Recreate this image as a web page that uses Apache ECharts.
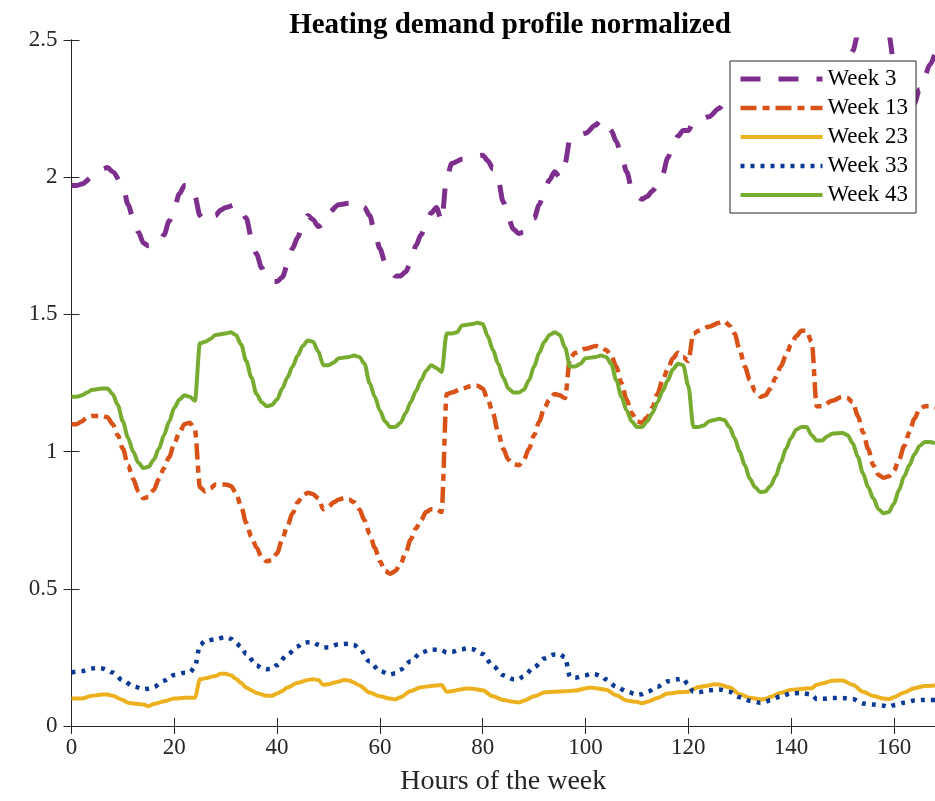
<!DOCTYPE html>
<html>
<head>
    <meta charset="utf-8">
    <title>Heating demand profile normalized</title>
    <script src="https://cdn.jsdelivr.net/npm/echarts@6/dist/echarts.min.js"></script>
</head>
<body>
<style>
    html, body, #main {
        width: 100%;
        height: 100%;
        padding: 0;
        margin: 0;
        background: #fff;
    }
</style>
<div id="main"></div>
<script type="text/javascript">
    // [hour, normalized demand]
    var week3 = [
        [0, 1.97], [1, 1.97], [2, 1.975], [4, 2.0], [6, 2.03], [7, 2.035], [8, 2.02], [10, 1.97],
        [11, 1.9], [12, 1.85], [13, 1.8], [14, 1.76], [15, 1.75], [16, 1.75], [17, 1.76], [18, 1.79],
        [19, 1.84], [20, 1.89], [21, 1.94], [22, 1.97], [23, 1.97], [24, 1.93], [25, 1.86], [26, 1.84],
        [28, 1.86], [29, 1.88], [30, 1.89], [32, 1.9], [33, 1.88], [34, 1.85], [35, 1.78], [36, 1.72],
        [37, 1.67], [38, 1.635], [39, 1.62], [40, 1.62], [41, 1.635], [42, 1.68], [43, 1.74], [44, 1.78],
        [45, 1.83], [46, 1.86], [47, 1.845], [48, 1.82], [49, 1.83], [50, 1.87], [52, 1.9], [54, 1.905],
        [56, 1.91], [57, 1.89], [58, 1.86], [59, 1.8], [60, 1.74], [61, 1.69], [62, 1.66], [63, 1.64],
        [64, 1.64], [65, 1.655], [66, 1.69], [67, 1.75], [68, 1.79], [69, 1.83], [70, 1.87], [71, 1.89],
        [72, 1.84], [73, 2.0], [74, 2.05], [76, 2.065], [78, 2.075], [80, 2.08], [81, 2.06], [82, 2.03],
        [83, 1.99], [84, 1.91], [85, 1.85], [86, 1.81], [87, 1.795], [88, 1.8], [89, 1.82], [90, 1.85],
        [91, 1.9], [92, 1.95], [93, 1.99], [94, 2.02], [95, 2.0], [96, 2.05], [97, 2.14], [98, 2.15],
        [100, 2.16], [102, 2.19], [103, 2.21], [104, 2.2], [105, 2.17], [106, 2.13], [107, 2.08], [108, 2.02],
        [109, 1.96], [110, 1.93], [111, 1.92], [112, 1.93], [113, 1.95], [114, 1.97], [115, 2.01], [116, 2.07],
        [117, 2.12], [118, 2.15], [119, 2.17], [120, 2.17], [121, 2.2], [122, 2.21], [124, 2.22], [126, 2.25],
        [127, 2.27], [128, 2.28], [130, 2.3], [132, 2.29], [134, 2.25], [136, 2.22], [138, 2.24], [140, 2.28],
        [142, 2.32], [144, 2.33], [146, 2.35], [148, 2.38], [150, 2.4], [151, 2.42], [152, 2.46], [153, 2.52],
        [154, 2.57], [156, 2.6], [158, 2.58], [159, 2.52], [160, 2.42], [162, 2.3], [163, 2.26], [164, 2.27],
        [165, 2.32], [166, 2.37], [167, 2.41], [168, 2.45]
    ];

    var week13 = [
        [0, 1.1], [1, 1.1], [2, 1.11], [3, 1.125], [4, 1.13], [6, 1.13], [7, 1.125], [8, 1.1],
        [9, 1.06], [10, 1.01], [11, 0.95], [12, 0.9], [13, 0.855], [14, 0.83], [15, 0.835], [16, 0.86],
        [17, 0.9], [18, 0.94], [19, 0.98], [20, 1.03], [21, 1.07], [22, 1.1], [23, 1.105], [24, 1.08],
        [25, 0.87], [26, 0.855], [27, 0.865], [28, 0.88], [30, 0.88], [31, 0.875], [32, 0.85], [33, 0.8],
        [34, 0.74], [35, 0.69], [36, 0.65], [37, 0.615], [38, 0.6], [39, 0.605], [40, 0.63], [41, 0.68],
        [42, 0.73], [43, 0.775], [44, 0.815], [45, 0.84], [46, 0.85], [47, 0.845], [48, 0.83], [49, 0.79],
        [50, 0.8], [51, 0.815], [52, 0.825], [53, 0.83], [54, 0.825], [55, 0.815], [56, 0.79], [57, 0.75],
        [58, 0.7], [59, 0.65], [60, 0.6], [61, 0.565], [62, 0.555], [63, 0.565], [64, 0.59], [65, 0.63],
        [66, 0.68], [67, 0.72], [68, 0.75], [69, 0.78], [70, 0.79], [71, 0.79], [72, 0.78], [73, 1.21],
        [74, 1.215], [76, 1.23], [78, 1.24], [79, 1.24], [80, 1.23], [81, 1.19], [82, 1.14], [83, 1.07],
        [84, 1.01], [85, 0.97], [86, 0.955], [87, 0.95], [88, 0.97], [89, 1.01], [90, 1.06], [91, 1.11],
        [92, 1.16], [93, 1.19], [94, 1.21], [95, 1.205], [96, 1.195], [97, 1.34], [98, 1.36], [100, 1.375],
        [102, 1.385], [103, 1.38], [104, 1.37], [105, 1.35], [106, 1.31], [107, 1.25], [108, 1.19], [109, 1.14],
        [110, 1.11], [111, 1.105], [112, 1.125], [113, 1.16], [114, 1.21], [115, 1.26], [116, 1.3], [117, 1.34],
        [118, 1.36], [119, 1.345], [120, 1.33], [121, 1.43], [122, 1.44], [124, 1.455], [126, 1.47], [127, 1.475],
        [128, 1.46], [129, 1.43], [130, 1.37], [131, 1.31], [132, 1.26], [133, 1.22], [134, 1.2], [135, 1.205],
        [136, 1.23], [137, 1.27], [138, 1.31], [139, 1.35], [140, 1.39], [141, 1.42], [142, 1.44], [143, 1.44],
        [144, 1.4], [145, 1.165], [146, 1.165], [148, 1.185], [150, 1.2], [151, 1.195], [152, 1.18], [153, 1.13],
        [154, 1.07], [155, 1.01], [156, 0.95], [157, 0.915], [158, 0.905], [159, 0.91], [160, 0.93], [161, 0.97],
        [162, 1.02], [163, 1.07], [164, 1.12], [165, 1.155], [166, 1.165], [167, 1.165], [168, 1.16]
    ];

    var week23 = [
        [0, 0.1], [2, 0.1], [4, 0.11], [6, 0.115], [7, 0.115], [8, 0.11], [10, 0.095], [11, 0.085],
        [12, 0.082], [13, 0.08], [14, 0.078], [15, 0.072], [16, 0.08], [17, 0.085], [18, 0.09], [20, 0.1],
        [22, 0.103], [24, 0.103], [25, 0.17], [26, 0.174], [28, 0.182], [29, 0.19], [30, 0.19], [31, 0.185],
        [32, 0.172], [33, 0.157], [34, 0.14], [35, 0.13], [36, 0.12], [38, 0.11], [39, 0.11], [40, 0.118],
        [41, 0.128], [42, 0.14], [44, 0.158], [46, 0.168], [47, 0.17], [48, 0.168], [49, 0.15], [50, 0.152],
        [51, 0.158], [52, 0.162], [53, 0.168], [54, 0.166], [55, 0.158], [56, 0.148], [58, 0.122], [60, 0.108],
        [62, 0.1], [63, 0.097], [64, 0.105], [66, 0.128], [68, 0.141], [70, 0.146], [72, 0.149], [73, 0.125],
        [74, 0.127], [76, 0.134], [77, 0.137], [78, 0.136], [80, 0.13], [82, 0.108], [84, 0.095], [86, 0.088],
        [87, 0.086], [88, 0.092], [90, 0.108], [92, 0.122], [94, 0.125], [96, 0.127], [98, 0.129], [100, 0.137],
        [101, 0.14], [102, 0.138], [104, 0.132], [106, 0.112], [108, 0.093], [110, 0.088], [111, 0.083], [112, 0.088],
        [114, 0.102], [116, 0.118], [118, 0.123], [120, 0.125], [121, 0.135], [122, 0.142], [124, 0.148], [125, 0.152],
        [126, 0.151], [128, 0.141], [130, 0.116], [132, 0.103], [134, 0.097], [135, 0.098], [136, 0.106], [138, 0.121],
        [140, 0.132], [142, 0.135], [144, 0.138], [145, 0.15], [146, 0.155], [148, 0.165], [150, 0.166], [152, 0.15],
        [154, 0.125], [156, 0.109], [158, 0.1], [159, 0.098], [160, 0.105], [162, 0.122], [164, 0.138], [166, 0.146],
        [168, 0.148]
    ];

    var week33 = [
        [0, 0.195], [2, 0.2], [4, 0.21], [5, 0.212], [6, 0.21], [7, 0.204], [8, 0.195], [10, 0.166],
        [12, 0.145], [14, 0.134], [15, 0.136], [16, 0.142], [18, 0.165], [20, 0.186], [22, 0.194], [23, 0.195],
        [24, 0.215], [25, 0.295], [26, 0.31], [28, 0.316], [30, 0.324], [31, 0.318], [32, 0.302], [33, 0.288],
        [34, 0.262], [36, 0.222], [37, 0.21], [38, 0.207], [39, 0.208], [40, 0.222], [42, 0.26], [44, 0.29],
        [45, 0.302], [46, 0.305], [47, 0.305], [48, 0.296], [49, 0.286], [50, 0.287], [52, 0.298], [54, 0.3],
        [55, 0.295], [56, 0.282], [58, 0.235], [60, 0.2], [62, 0.188], [63, 0.192], [64, 0.205], [66, 0.236],
        [68, 0.268], [70, 0.279], [72, 0.276], [73, 0.268], [74, 0.27], [76, 0.28], [77, 0.283], [78, 0.28],
        [80, 0.262], [82, 0.219], [84, 0.185], [86, 0.17], [87, 0.17], [88, 0.182], [90, 0.214], [92, 0.246],
        [94, 0.261], [95, 0.262], [96, 0.25], [97, 0.18], [98, 0.176], [100, 0.185], [101, 0.19], [102, 0.188],
        [103, 0.182], [104, 0.17], [106, 0.143], [108, 0.126], [110, 0.114], [111, 0.116], [112, 0.124], [114, 0.143],
        [116, 0.163], [118, 0.17], [119, 0.172], [120, 0.15], [121, 0.125], [122, 0.123], [124, 0.13], [126, 0.133],
        [128, 0.125], [130, 0.105], [132, 0.092], [134, 0.085], [135, 0.088], [136, 0.095], [138, 0.108], [140, 0.119],
        [142, 0.12], [144, 0.115], [145, 0.098], [146, 0.099], [148, 0.102], [150, 0.102], [152, 0.098], [154, 0.082],
        [156, 0.078], [158, 0.074], [159, 0.07], [160, 0.076], [162, 0.085], [164, 0.093], [166, 0.095], [168, 0.095]
    ];

    var week43 = [
        [0, 1.2], [1, 1.2], [2, 1.205], [3, 1.215], [4, 1.225], [6, 1.23], [7, 1.23], [8, 1.21],
        [9, 1.17], [10, 1.11], [11, 1.05], [12, 1.0], [13, 0.96], [14, 0.94], [15, 0.945], [16, 0.97],
        [17, 1.01], [18, 1.06], [19, 1.11], [20, 1.16], [21, 1.19], [22, 1.205], [23, 1.2], [24, 1.185],
        [25, 1.395], [26, 1.4], [27, 1.41], [28, 1.425], [30, 1.43], [31, 1.435], [32, 1.425], [33, 1.39],
        [34, 1.33], [35, 1.27], [36, 1.21], [37, 1.18], [38, 1.165], [39, 1.17], [40, 1.19], [41, 1.23],
        [42, 1.27], [43, 1.31], [44, 1.35], [45, 1.385], [46, 1.405], [47, 1.4], [48, 1.365], [49, 1.315],
        [50, 1.315], [51, 1.325], [52, 1.34], [54, 1.345], [55, 1.35], [56, 1.345], [57, 1.32], [58, 1.25],
        [59, 1.2], [60, 1.15], [61, 1.11], [62, 1.09], [63, 1.09], [64, 1.105], [65, 1.14], [66, 1.18],
        [67, 1.22], [68, 1.26], [69, 1.295], [70, 1.315], [71, 1.305], [72, 1.29], [73, 1.43], [74, 1.43],
        [75, 1.435], [76, 1.46], [78, 1.465], [79, 1.47], [80, 1.465], [81, 1.42], [82, 1.37], [83, 1.32],
        [84, 1.27], [85, 1.23], [86, 1.215], [87, 1.215], [88, 1.225], [89, 1.26], [90, 1.31], [91, 1.36],
        [92, 1.4], [93, 1.425], [94, 1.435], [95, 1.425], [96, 1.38], [97, 1.31], [98, 1.31], [99, 1.32],
        [100, 1.34], [102, 1.345], [103, 1.35], [104, 1.345], [105, 1.32], [106, 1.26], [107, 1.2], [108, 1.15],
        [109, 1.11], [110, 1.09], [111, 1.09], [112, 1.11], [113, 1.14], [114, 1.18], [115, 1.22], [116, 1.26],
        [117, 1.3], [118, 1.32], [119, 1.315], [120, 1.24], [121, 1.09], [122, 1.09], [123, 1.095], [124, 1.11],
        [125, 1.115], [126, 1.12], [127, 1.115], [128, 1.09], [129, 1.05], [130, 1.0], [131, 0.95], [132, 0.9],
        [133, 0.87], [134, 0.853], [135, 0.855], [136, 0.875], [137, 0.91], [138, 0.96], [139, 1.01], [140, 1.05],
        [141, 1.08], [142, 1.09], [143, 1.09], [144, 1.06], [145, 1.04], [146, 1.04], [147, 1.055], [148, 1.065],
        [150, 1.068], [151, 1.06], [152, 1.03], [153, 0.98], [154, 0.92], [155, 0.87], [156, 0.83], [157, 0.79],
        [158, 0.775], [159, 0.78], [160, 0.81], [161, 0.86], [162, 0.91], [163, 0.95], [164, 0.99], [165, 1.02],
        [166, 1.035], [167, 1.035], [168, 1.03]
    ];

    var seriesNames = ['Week 3', 'Week 13', 'Week 23', 'Week 33', 'Week 43'];
    var seriesData = [week3, week13, week23, week33, week43];
    var colors = ['#7E2F8E', '#D95319', '#EDB120', '#0A3A95', '#77AC30'];
    var widths = [5, 4.5, 4, 4.5, 4];
    var dashes = [[20, 18], [16, 6, 7, 6], 'solid', [4, 6], 'solid'];

    var FONT = 'Liberation Serif';
    var AXIS_COLOR = '#262626';

    var myChart = echarts.init(document.getElementById('main'));

    var baseX = {
        type: 'value', min: 0, max: 168, interval: 20,
        axisLine: {lineStyle: {color: AXIS_COLOR, width: 1}},
        axisTick: {inside: true, length: 8, lineStyle: {color: AXIS_COLOR}},
        splitLine: {show: false}
    };
    var baseY = {
        type: 'value', min: 0, max: 2.5, interval: 0.5,
        axisLine: {show: true, lineStyle: {color: AXIS_COLOR, width: 1}},
        axisTick: {show: true, inside: true, length: 8, lineStyle: {color: AXIS_COLOR}},
        splitLine: {show: false}
    };

    myChart.setOption({
        backgroundColor: '#fff',
        animation: false,
        title: {
            text: 'Heating demand profile normalized',
            left: 505,
            textAlign: 'center',
            top: 6,
            textStyle: {fontFamily: FONT, fontWeight: 'bold', fontSize: 29, color: '#000'}
        },
        grid: {left: 71.5, right: -4, top: 40, bottom: 75},
        legend: {
            orient: 'vertical',
            left: 730,
            top: 61,
            padding: [6, 8, 6, 8],
            itemWidth: 82,
            itemHeight: 14,
            itemGap: 5,
            backgroundColor: '#fff',
            borderColor: AXIS_COLOR,
            borderWidth: 1,
            borderRadius: 0,
            itemStyle: {opacity: 0},
            textStyle: {fontFamily: FONT, fontSize: 23, color: '#000', lineHeight: 24},
            // legend caps inherited line width at 2, so give each sample its own width
            data: seriesNames.map(function (name, i) {
                return {
                    name: name,
                    itemStyle: {opacity: 0},
                    lineStyle: {width: widths[i], type: dashes[i], color: colors[i], cap: 'butt'}
                };
            })
        },
        xAxis: [
            Object.assign({}, baseX, {
                position: 'bottom',
                name: 'Hours of the week',
                nameLocation: 'middle',
                nameGap: 42,
                nameTextStyle: {fontFamily: FONT, fontSize: 28, color: AXIS_COLOR},
                axisLabel: {fontFamily: FONT, fontSize: 23, color: AXIS_COLOR, margin: 10, showMaxLabel: false}
            }),
            Object.assign({}, baseX, {position: 'top', axisLabel: {show: false}})
        ],
        yAxis: [
            Object.assign({}, baseY, {
                position: 'left',
                axisLabel: {fontFamily: FONT, fontSize: 23, color: AXIS_COLOR, margin: 14}
            }),
            Object.assign({}, baseY, {position: 'right', axisLabel: {show: false}})
        ],
        series: seriesNames.map(function (name, i) {
            return {
                name: name,
                type: 'line',
                data: seriesData[i],
                symbol: 'none',
                smooth: 0.3,
                smoothMonotone: 'x',
                clip: true,
                color: colors[i],
                lineStyle: {color: colors[i], width: widths[i], type: dashes[i], cap: 'butt', join: 'round'}
            };
        })
    });

    window.onresize = function () {
        myChart.resize();
    };
</script>
</body>
</html>
